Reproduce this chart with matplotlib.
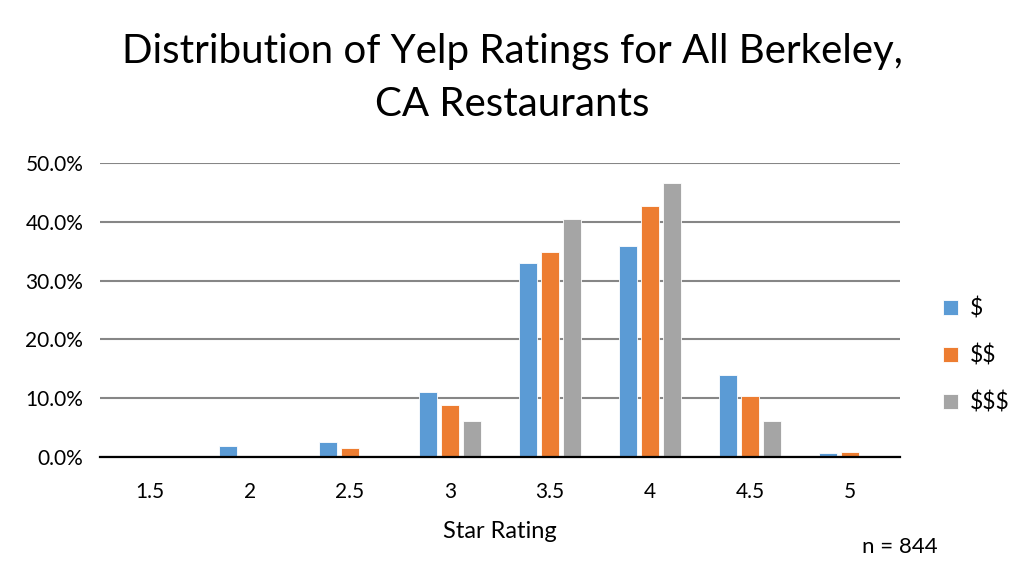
import numpy as np
import matplotlib.pyplot as plt
from matplotlib.ticker import PercentFormatter

plt.rcParams['font.family'] = ['Lato', 'DejaVu Sans']
plt.rcParams['text.parse_math'] = False

ratings = ['1.5', '2', '2.5', '3', '3.5', '4', '4.5', '5']
price_labels = ['$', '$$', '$$$']
one_dollar = [0.0, 1.8, 2.6, 11.0, 33.0, 35.8, 14.0, 0.7]
two_dollar = [0.0, 0.2, 1.5, 8.9, 34.8, 42.7, 10.3, 0.85]
three_dollar = [0.0, 0.0, 0.0, 6.1, 40.4, 46.6, 6.1, 0.0]
colors = ['#5b9bd5', '#ed7d31', '#a5a5a5']

fig = plt.figure(figsize=(10.24, 5.75), dpi=100)
ax = fig.add_axes([100 / 1024, 1 - 457 / 575, 800 / 1024, 294 / 575])

x = np.arange(len(ratings))
width = 0.175
step = 0.22
for i, (vals, lab) in enumerate(zip([one_dollar, two_dollar, three_dollar], price_labels)):
    ax.bar(x + (i - 1) * step, vals, width, color=colors[i], label=lab,
           edgecolor='white', linewidth=0.6, zorder=3)

ax.set_xlim(-0.5, len(ratings) - 0.5)
ax.set_ylim(0, 50)
ax.set_yticks(np.arange(0, 51, 10))
ax.yaxis.set_major_formatter(PercentFormatter(decimals=1))
ax.set_xticks(x)
ax.set_xticklabels(ratings)
ax.grid(axis='y', color='#868686', linewidth=1.5, zorder=0)
for s in ['top', 'right', 'left']:
    ax.spines[s].set_visible(False)
ax.spines['bottom'].set_color('black')
ax.spines['bottom'].set_linewidth(1.6)
ax.spines['bottom'].set_zorder(4)
ax.tick_params(axis='x', length=0, labelsize=15, pad=18)
ax.tick_params(axis='y', length=0, labelsize=15, pad=12)
ax.set_xlabel('Star Rating', fontsize=17, labelpad=14)

fig.text(512 / 1024, 1 - 78 / 575, 'Distribution of Yelp Ratings for All Berkeley,\nCA Restaurants',
         ha='center', va='center', fontsize=29, linespacing=1.5)
fig.text(900 / 1024, 1 - 547 / 575, 'n = 844', ha='center', va='center', fontsize=16)

ax.legend(loc='center left', bbox_to_anchor=(1.028, 0.345), frameon=False, fontsize=16.5,
          handlelength=0.65, handleheight=0.65, handletextpad=0.5, labelspacing=1.1)

fig.savefig('out.png', dpi=100)
